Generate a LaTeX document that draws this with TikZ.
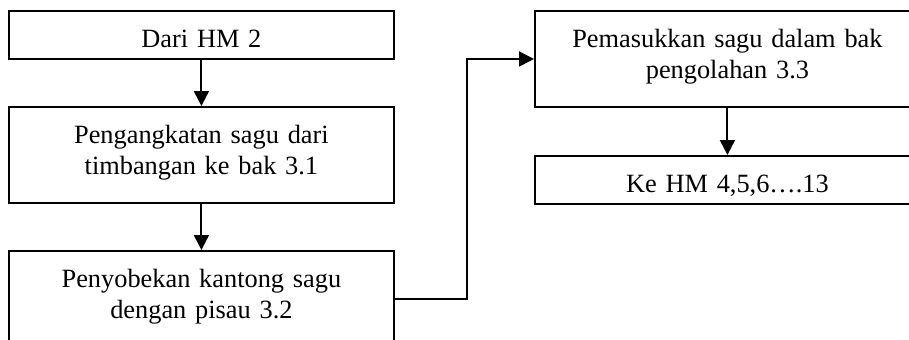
\documentclass[tikz,border=0pt]{standalone}
\usepackage{fontspec}
\setmainfont{Liberation Serif}
\usetikzlibrary{arrows.meta}

\tikzset{
  stepbox/.style={draw, line width=0.9pt, anchor=north west, inner sep=0pt,
    text width=6.16cm, align=center, text height=0.584cm, text depth=#1},
  stepbox/.default=0.952cm,
  flow/.style={line width=0.9pt, -{Triangle[length=0.24cm,width=0.24cm]}}
}

\begin{document}
\begin{tikzpicture}[x=0.016cm,y=-0.016cm,font=\fontsize{12pt}{14pt}\selectfont]
  \clip (0,0) rectangle (909,339);
  % kolom kiri
  \node[stepbox=0.184cm] (hm2) at (8,10) {Dari HM 2};
  \node[stepbox] (angkat) at (8,106) {Pengangkatan sagu dari\\timbangan ke bak 3.1};
  \node[stepbox] (sobek) at (8,250) {Penyobekan kantong sagu\\dengan pisau 3.2};
  % kolom kanan
  \node[stepbox] (masuk) at (534,10) {Pemasukkan sagu dalam bak\\pengolahan 3.3};
  \node[stepbox=0.184cm] (hm4) at (534,155) {Ke HM 4,5,6….13};
  % panah
  \draw[flow] (hm2) -- (angkat);
  \draw[flow] (angkat) -- (sobek);
  \draw[flow] (sobek.east) -- ++(72,0) |- (masuk.west);
  \draw[flow] (masuk) -- (hm4);
\end{tikzpicture}
\end{document}
